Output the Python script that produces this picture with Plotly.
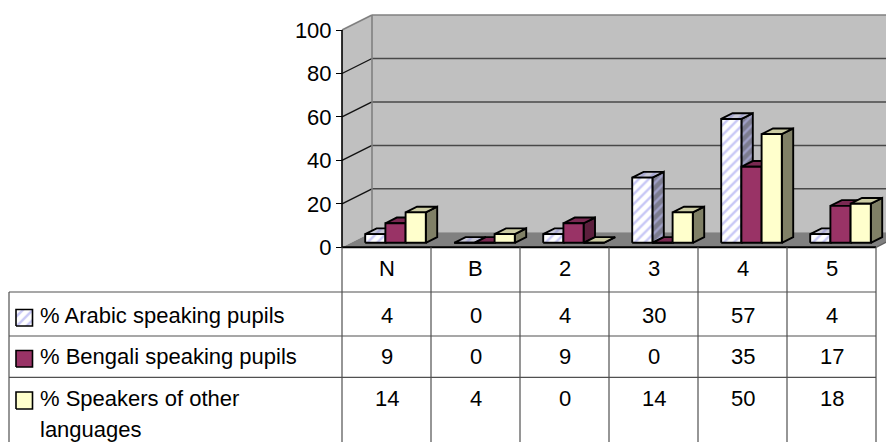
import plotly.graph_objects as go

# ---------------- data ----------------
categories = ["N", "B", "2", "3", "4", "5"]
series_names = ["% Arabic speaking pupils", "% Bengali speaking pupils", "% Speakers of other", "languages"]
arabic = [4, 0, 4, 30, 57, 4]
bengali = [9, 0, 9, 0, 35, 17]
other = [14, 4, 0, 14, 50, 18]
y_ticks = [0, 20, 40, 60, 80, 100]

series = [arabic, bengali, other]

# ---------------- geometry helpers ----------------
W, H = 894, 442          # window size
OFF = 8                  # page body margin
FIG_W, FIG_H = W - OFF, H - OFF
X0_PX = 342.0      # window pixel where category axis starts
CAT_PX = 89.0      # pixel width of one category
Y0_PX = 247.3      # window pixel of value 0 on front plane
VAL_PX = 2.173     # pixels per value unit

def px_x(p):
    return (p - X0_PX) / CAT_PX

def px_y(p):
    return (Y0_PX - p) / VAL_PX

xr = [px_x(OFF), px_x(W)]
yr = [px_y(H), px_y(OFF)]

DX = 30.0 / CAT_PX      # full depth offset in category units
DY = 15.0 / VAL_PX      # full depth offset in value units
F = 0.30                # front face depth fraction
G = 0.38                # bar depth fraction
BW = 20.2 / CAT_PX      # bar width
NCAT = len(categories)
VMAX = y_ticks[-1]

FONT = "Liberation Sans, Arial, sans-serif"
FS = 22

# colour styles for each series: (front, top, side)
styles = [
    dict(front=dict(bg="#FFFFFF", fg="#C8C8F6"),
         top=dict(bg="#C8C8D6", fg="#A8A8D4"),
         side=dict(bg="#7C7C8E", fg="#A0A0C8")),
    dict(front="#993366", top="#7A2952", side="#5C1F3D"),
    dict(front="#FFFFCC", top="#CCCCA3", side="#808066"),
]

fig = go.Figure()

def poly(xs, ys, style, lw=1.9):
    kw = dict(x=xs + [xs[0]], y=ys + [ys[0]], mode="lines", fill="toself",
              line=dict(color="black", width=lw), hoverinfo="skip", showlegend=False)
    if isinstance(style, dict):
        kw["fillcolor"] = style["bg"]
        kw["fillpattern"] = dict(shape="/", fgcolor=style["fg"], bgcolor=style["bg"],
                                 size=7, solidity=0.35, fillmode="replace")
    else:
        kw["fillcolor"] = style
    fig.add_trace(go.Scatter(**kw))

# ---------------- bars ----------------
gx, gy = G * DX, G * DY
base = F * DY
for i in range(NCAT):
    for k, vals in enumerate(series):
        v = vals[i]
        xl = i + 0.5 - 1.5 * BW + k * BW + F * DX
        xrr = xl + BW
        top = base + v
        st = styles[k]
        # side face
        poly([xrr, xrr + gx, xrr + gx, xrr], [base, base + gy, top + gy, top], st["side"])
        # top face
        poly([xl, xrr, xrr + gx, xl + gx], [top, top, top + gy, top + gy], st["top"])
        # front face
        poly([xl, xrr, xrr, xl], [base, base, top, top], st["front"])

# ---------------- legend keys in table ----------------
key_rows = [(309.5, 326), (350.5, 367), (392, 409)]
for k, (t, b) in enumerate(key_rows):
    l, r = 16, 32.5
    poly([px_x(l), px_x(r), px_x(r), px_x(l)], [px_y(b), px_y(b), px_y(t), px_y(t)],
         styles[k]["front"], lw=1.6)

# ---------------- walls / floor / grid (shapes) ----------------
shapes = []
shapes.append(dict(type="path", xref="x", yref="y", layer="below",
                   path=f"M 0 0 L 0 {VMAX} L {DX} {VMAX + DY} L {DX} {DY} Z",
                   fillcolor="#C0C0C0", line=dict(width=0)))
shapes.append(dict(type="rect", xref="x", yref="y", layer="below",
                   x0=DX, x1=NCAT + DX + 0.5, y0=DY, y1=VMAX + DY,
                   fillcolor="#C0C0C0", line=dict(width=0)))
for t in y_ticks[1:-1]:
    shapes.append(dict(type="line", xref="x", yref="y", layer="below",
                       x0=DX, x1=NCAT + DX + 0.5, y0=t + DY, y1=t + DY,
                       line=dict(color="#484848", width=1.5)))
    shapes.append(dict(type="line", xref="x", yref="y", layer="below",
                       x0=0, x1=DX, y0=t, y1=t + DY,
                       line=dict(color="#111111", width=1.3)))
shapes.append(dict(type="line", xref="x", yref="y", layer="below",
                   x0=0, x1=DX, y0=VMAX, y1=VMAX + DY, line=dict(color="#808080", width=1.6)))
shapes.append(dict(type="line", xref="x", yref="y", layer="below",
                   x0=DX, x1=NCAT + DX + 0.5, y0=VMAX + DY, y1=VMAX + DY,
                   line=dict(color="#808080", width=1.6)))
shapes.append(dict(type="line", xref="x", yref="y", layer="below",
                   x0=DX, x1=DX, y0=DY, y1=VMAX + DY, line=dict(color="#808080", width=1.6)))
shapes.append(dict(type="path", xref="x", yref="y", layer="below",
                   path=f"M 0 0 L {NCAT} 0 L {NCAT + DX} {DY} L {DX} {DY} Z",
                   fillcolor="#808080", line=dict(width=0)))
shapes.append(dict(type="line", xref="x", yref="y", layer="below",
                   x0=NCAT, x1=NCAT + DX, y0=0, y1=DY, line=dict(color="#606060", width=1.3)))
shapes.append(dict(type="line", xref="x", yref="y", layer="below",
                   x0=0, x1=0, y0=0, y1=VMAX, line=dict(color="black", width=1.6)))
shapes.append(dict(type="line", xref="x", yref="y",
                   x0=0, x1=NCAT, y0=0, y1=0, line=dict(color="black", width=2)))

# ---------------- data table ----------------
TL = "#505050"
row_lines_px = [292, 336, 377.3]
TABLE_LEFT = 9
for yp in row_lines_px:
    shapes.append(dict(type="line", xref="x", yref="y",
                       x0=px_x(TABLE_LEFT), x1=NCAT, y0=px_y(yp), y1=px_y(yp),
                       line=dict(color=TL, width=1.2)))
for c in range(NCAT + 1):
    shapes.append(dict(type="line", xref="x", yref="y",
                       x0=c, x1=c, y0=px_y(247.3), y1=px_y(H + 2),
                       line=dict(color=TL, width=1.2)))
shapes.append(dict(type="line", xref="x", yref="y",
                   x0=px_x(TABLE_LEFT), x1=px_x(TABLE_LEFT), y0=px_y(292), y1=px_y(H + 2),
                   line=dict(color=TL, width=1.2)))

annotations = []
header_y = 268
row_y = [315, 356.5, 398]
for i, cat in enumerate(categories):
    annotations.append(dict(x=i + 0.5, y=px_y(header_y), xref="x", yref="y", text=cat,
                            showarrow=False, xanchor="center", yanchor="middle",
                            font=dict(family=FONT, size=FS, color="black")))
    for k, vals in enumerate(series):
        annotations.append(dict(x=i + 0.5, y=px_y(row_y[k]), xref="x", yref="y",
                                text=str(vals[i]), showarrow=False,
                                xanchor="center", yanchor="middle",
                                font=dict(family=FONT, size=FS, color="black")))
label_y = [315, 356.5, 398, 429]
for name, yp in zip(series_names, label_y):
    annotations.append(dict(x=px_x(37.5), y=px_y(yp), xref="x", yref="y", text=name,
                            showarrow=False, xanchor="left", yanchor="middle",
                            font=dict(family=FONT, size=FS, color="black")))

fig.update_layout(
    width=FIG_W, height=FIG_H,
    margin=dict(l=0, r=0, t=0, b=0),
    paper_bgcolor="white", plot_bgcolor="white",
    showlegend=False,
    shapes=shapes,
    annotations=annotations,
    xaxis=dict(range=xr, visible=False, fixedrange=True),
    yaxis=dict(range=yr, anchor="free", position=(X0_PX - OFF) / FIG_W,
               tickvals=y_ticks, ticktext=[str(t) for t in y_ticks],
               ticks="outside", ticklen=6, tickwidth=1.2, tickcolor="black",
               showgrid=False, zeroline=False, showline=False,
               tickfont=dict(family=FONT, size=FS, color="black"),
               automargin=False, fixedrange=True),
    font=dict(family=FONT, size=FS, color="black"),
)

fig.write_html("out.html")
